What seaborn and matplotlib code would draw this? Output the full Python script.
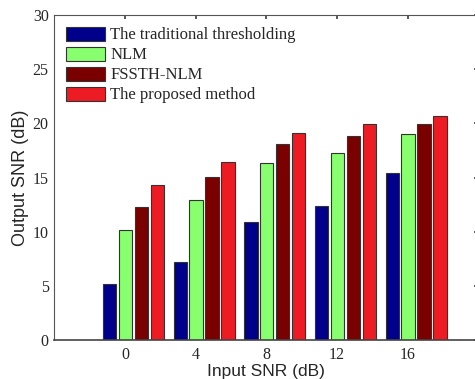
import matplotlib
matplotlib.use("Agg")
import matplotlib.pyplot as plt
import seaborn as sns
import pandas as pd
import numpy as np

input_snr = ["0", "4", "8", "12", "16"]
methods = ["The traditional thresholding", "NLM", "FSSTH-NLM", "The proposed method"]
traditional = [5.15, 7.17, 10.86, 12.34, 15.42]
nlm = [10.2, 12.95, 16.3, 17.23, 18.98]
fssth_nlm = [12.28, 15.02, 18.1, 18.8, 19.97]
proposed = [14.28, 16.4, 19.14, 19.97, 20.65]
colors = ["#00008B", "#88FF6E", "#7A0000", "#ED1C24"]

rows = []
for m, vals in zip(methods, [traditional, nlm, fssth_nlm, proposed]):
    for x, v in zip(input_snr, vals):
        rows.append({"Input SNR": x, "Method": m, "Output SNR": v})
df = pd.DataFrame(rows)

sns.set_theme(style="white")
plt.rcParams["font.family"] = ["Liberation Serif", "DejaVu Serif"]

fig = plt.figure(figsize=(4.75, 3.79), dpi=100)
# axes extends slightly past the right edge, as in the cropped reference
ax = fig.add_axes([0.1143, 0.103, 0.8925, 0.857])
sns.barplot(data=df, x="Input SNR", y="Output SNR", hue="Method",
            order=input_snr, hue_order=methods, palette=colors, saturation=1,
            width=0.9, gap=0.16, edgecolor="#333333", linewidth=0.8,
            ax=ax)

ax.set_xlim(-1.12, 4.88)
ax.set_xticks(np.arange(len(input_snr)) - 0.12)
ax.set_xticklabels(input_snr)
ax.set_ylim(0, 30)
ax.set_yticks([0, 5, 10, 15, 20, 25, 30])
for s in ax.spines.values():
    s.set_visible(True)
    s.set_color("#555555")
    s.set_linewidth(0.8)
ax.spines["bottom"].set_linewidth(1.2)
ax.spines["bottom"].set_color("#444444")
ax.tick_params(direction="in", top=True, right=True, length=3,
               labelsize=11.5, color="#444444", pad=5)
ax.tick_params(axis="y", pad=4)
ax.set_xlabel("Input SNR (dB)", family="Liberation Sans", fontsize=12.5, labelpad=0.5)
ax.set_ylabel("Output SNR (dB)", family="Liberation Sans", fontsize=13, labelpad=3)

leg = ax.legend(loc="upper left", bbox_to_anchor=(0.0, 1.0), frameon=False,
                fontsize=12, handlelength=2.35, handleheight=0.9,
                labelspacing=0.2, handletextpad=0.3, borderaxespad=0.3)

fig.savefig("out.png", dpi=100)
